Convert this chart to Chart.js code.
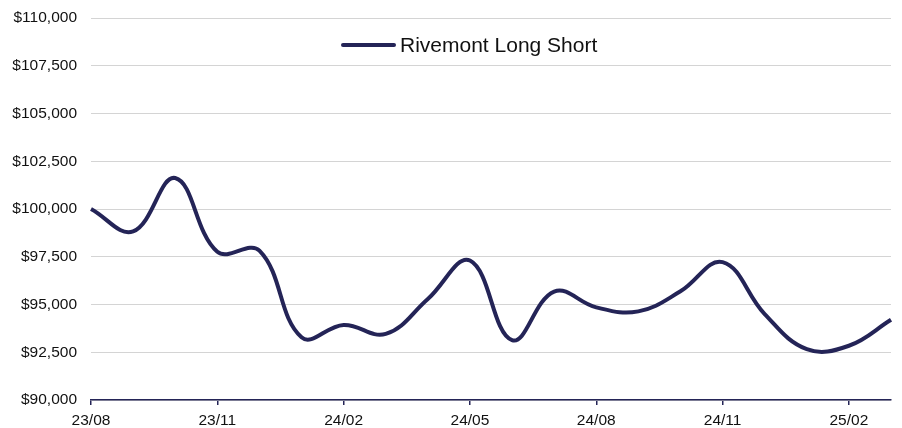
<!DOCTYPE html>
<html>
<head>
<meta charset="utf-8">
<script src="https://cdn.jsdelivr.net/npm/chart.js@4.4.0/dist/chart.umd.min.js"></script>
<style>
  html, body { margin: 0; padding: 0; background: #fff; }
  #wrap { width: 902px; height: 428px; }
</style>
</head>
<body>
<div id="wrap"><canvas id="chart" width="902" height="428"></canvas></div>
<script>
const months = ['23/08','23/09','23/10','23/11','23/12','24/01','24/02','24/03','24/04','24/05',
                '24/06','24/07','24/08','24/09','24/10','24/11','24/12','25/01','25/02','25/03'];
const rivemont = [100000, 98830, 101620, 97760, 97820, 93280, 93930, 93460, 95290, 97300,
                  93130, 95680, 94850, 94640, 95690, 97220, 94500, 92660, 92840, 94200];
const yTicks = [90000, 92500, 95000, 97500, 100000, 102500, 105000, 107500, 110000];
const seriesName = 'Rivemont Long Short';
const navy = '#242457';
const fontFam = '"Liberation Sans", Arial, sans-serif';

// legend drawn inside the plot, like the original
const innerLegend = {
    id: 'innerLegend',
    afterDraw(chart) {
        const ctx = chart.ctx;
        const ds = chart.data.datasets[0];
        ctx.save();
        ctx.strokeStyle = ds.borderColor;
        ctx.lineWidth = 4;
        ctx.lineCap = 'round';
        ctx.beginPath();
        ctx.moveTo(343, 45);
        ctx.lineTo(394, 45);
        ctx.stroke();
        ctx.fillStyle = '#111';
        ctx.font = '21px ' + fontFam;
        ctx.textBaseline = 'middle';
        ctx.fillText(ds.label, 400, 46);
        ctx.restore();
    }
};

new Chart(document.getElementById('chart'), {
    type: 'line',
    data: {
        labels: months,
        datasets: [{
            label: seriesName,
            data: rivemont,
            borderColor: navy,
            borderWidth: 4,
            pointRadius: 0,
            tension: 0.4,
            fill: false
        }]
    },
    options: {
        responsive: false,
        animation: false,
        layout: { padding: { top: 18, right: 11, left: 0, bottom: 0 } },
        plugins: { legend: { display: false }, tooltip: { enabled: false } },
        scales: {
            x: {
                offset: false,
                afterFit: axis => { axis.height = 28; },
                grid: { drawOnChartArea: false, drawTicks: true, tickLength: 5, color: navy, lineWidth: 1.5 },
                border: { display: true, color: navy, width: 1.5 },
                ticks: {
                    autoSkip: false, maxRotation: 0, padding: 6,
                    color: '#111',
                    font: { family: fontFam, size: 15.5 },
                    callback: (v, i) => i % 3 === 0 ? months[i] : null
                }
            },
            y: {
                min: 90000, max: 110000,
                afterBuildTicks: axis => { axis.ticks = yTicks.map(v => ({ value: v })); },
                afterFit: axis => { axis.width = 91; axis.paddingTop = 0; axis.paddingBottom = 0; },
                grid: { color: '#d4d4d4', lineWidth: 1, drawTicks: false },
                border: { display: false },
                ticks: {
                    padding: 14,
                    color: '#111',
                    font: { family: fontFam, size: 15.5 },
                    callback: v => '$' + v.toLocaleString('en-US')
                }
            }
        }
    },
    plugins: [innerLegend]
});
</script>
</body>
</html>
